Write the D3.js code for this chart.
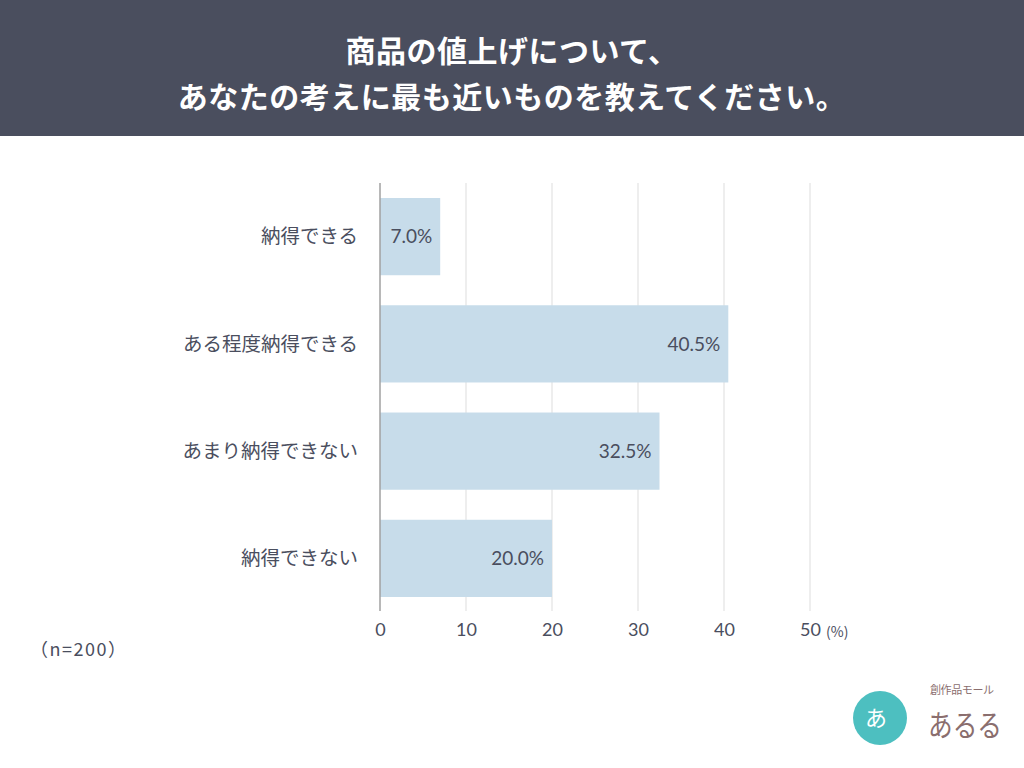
<!DOCTYPE html>
<html>
<head>
<meta charset="utf-8">
<script src="https://cdn.jsdelivr.net/npm/d3@7"></script>
<style>
  body { margin: 0; background: #fff; }
  svg { display: block; font-family: "Noto Sans CJK JP", "Noto Sans", sans-serif; }
</style>
</head>
<body>
<div id="chart"></div>
<script>
const width = 1024
const height = 768

// data
const titleLines = ["商品の値上げについて、", "あなたの考えに最も近いものを教えてください。"]
const categories = ["納得できる", "ある程度納得できる", "あまり納得できない", "納得できない"]
const values = [7.0, 40.5, 32.5, 20.0]
const ticks = [0, 10, 20, 30, 40, 50]
const sampleNote = "（n=200）"

const textColor = "#4a4e5e"

const svg = d3.select("#chart").append("svg")
    .attr("viewBox", [0, 0, width, height])
    .attr("width", width)
    .attr("height", height)

//header band
svg.append("rect")
    .attr("x", 0).attr("y", 0)
    .attr("width", width).attr("height", 136)
    .attr("fill", "#4a4e5e")

svg.selectAll(".title")
    .data(titleLines)
    .join("text")
    .attr("class", "title")
    .attr("x", width / 2)
    .attr("y", (d, i) => 62 + i * 46)
    .attr("text-anchor", "middle")
    .attr("fill", "white")
    .attr("font-size", 30)
    .attr("letter-spacing", 0.5)
    .attr("font-weight", "bold")
    .text(d => d)

//scales
const xScale = d3.scaleLinear().domain([0, 50]).range([380, 810])
const yScale = d3.scaleBand()
    .domain(categories)
    .range([183, 612])
    .paddingInner(0.28)
    .paddingOuter(0.14)

//gridlines
svg.append("g")
    .selectAll("line")
    .data(ticks.slice(1))
    .join("line")
    .attr("x1", d => xScale(d)).attr("x2", d => xScale(d))
    .attr("y1", 183).attr("y2", 611)
    .attr("stroke", "#dddddd")
    .attr("stroke-width", 1)

//bars
svg.append("g")
    .selectAll("rect")
    .data(values)
    .join("rect")
    .attr("x", xScale(0))
    .attr("y", (d, i) => yScale(categories[i]))
    .attr("width", d => xScale(d) - xScale(0))
    .attr("height", yScale.bandwidth())
    .attr("fill", "#c7dcea")

//zero axis line
svg.append("line")
    .attr("x1", xScale(0)).attr("x2", xScale(0))
    .attr("y1", 183).attr("y2", 611)
    .attr("stroke", "#a0a0a0")
    .attr("stroke-width", 1.5)

//value labels
svg.append("g")
    .selectAll("text")
    .data(values)
    .join("text")
    .attr("x", d => xScale(d) - 8)
    .attr("y", (d, i) => yScale(categories[i]) + yScale.bandwidth() / 2)
    .attr("dy", "0.35em")
    .attr("text-anchor", "end")
    .attr("fill", textColor)
    .attr("font-size", 19)
    .attr("font-family", "Lato, 'Noto Sans', sans-serif")
    .text(d => d.toFixed(1) + "%")

//category labels
svg.append("g")
    .selectAll("text")
    .data(categories)
    .join("text")
    .attr("x", 358)
    .attr("y", d => yScale(d) + yScale.bandwidth() / 2)
    .attr("dy", "0.35em")
    .attr("text-anchor", "end")
    .attr("fill", textColor)
    .attr("font-size", 19.5)
    .text(d => d)

//x axis
const xAxis = svg.append("g")
    .attr("transform", "translate(0,611)")
    .call(d3.axisBottom(xScale).tickValues(ticks).tickSize(0).tickPadding(12))
xAxis.select(".domain").remove()
xAxis.selectAll(".tick text")
    .attr("fill", textColor)
    .attr("font-size", 18)
    .attr("font-family", "Lato, 'Noto Sans', sans-serif")

svg.append("text")
    .attr("x", xScale(50) + 16)
    .attr("y", 637)
    .attr("fill", textColor)
    .attr("font-size", 14)
    .text("(%)")

svg.append("text")
    .attr("x", 30)
    .attr("y", 656)
    .attr("fill", textColor)
    .attr("font-size", 18)
    .attr("textLength", 96)
    .text(sampleNote)

//logo (rough)
const logo = svg.append("g").attr("transform", "translate(880,718)")
logo.append("circle")
    .attr("r", 27)
    .attr("fill", "#4dbfc0")
logo.append("text")
    .attr("x", -4).attr("y", 8)
    .attr("text-anchor", "middle")
    .attr("fill", "white")
    .attr("font-size", 22)
    .text("あ")
logo.append("text")
    .attr("x", 50).attr("y", -24)
    .attr("fill", "#8a6e6e")
    .attr("font-size", 11)
    .attr("textLength", 64)
    .text("創作品モール")
logo.append("text")
    .attr("x", 48).attr("y", 18)
    .attr("fill", "#8a6e6e")
    .attr("font-size", 30)
    .attr("textLength", 74)
    .attr("lengthAdjust", "spacingAndGlyphs")
    .text("あるる")
</script>
</body>
</html>
